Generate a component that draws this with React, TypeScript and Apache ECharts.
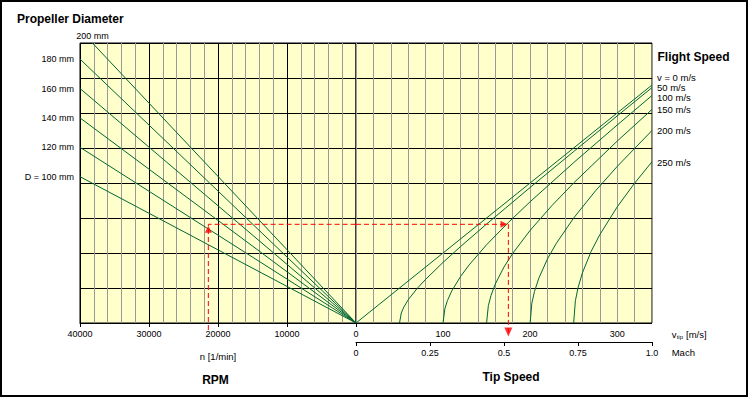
import React, { useEffect, useRef } from 'react';
import * as echarts from 'echarts';

// ---- data ----
// Propeller diameters: rotational tip speed line ends [rpm, m/s]
const diameterLabels = ['D = 100 mm', '120 mm', '140 mm', '160 mm', '180 mm', '200 mm'];
const diameterEnds: number[][] = [
  [40000, 209],
  [40000, 251],
  [40000, 293],
  [40000, 335],
  [40000, 377],
  [38200, 400],
];

// Flight speed curves: [tip speed m/s, rotational tip speed m/s]
const flightLabels = ['v = 0 m/s', '50 m/s', '100 m/s', '150 m/s', '200 m/s', '250 m/s'];
const flightV0: number[][] = [[0, 0], [340, 340]];
const flightV50: number[][] = [[50, 0], [52, 14.3], [55, 22.9], [60, 33.2], [70, 49], [80, 62.4], [100, 86.6], [120, 109.1], [150, 141.4], [200, 193.6], [250, 244.9], [300, 295.8], [340, 336.3]];
const flightV100: number[][] = [[100, 0], [102, 20.1], [105, 32], [110, 45.8], [120, 66.3], [130, 83.1], [150, 111.8], [175, 143.6], [200, 173.2], [250, 229.1], [300, 282.8], [340, 325]];
const flightV150: number[][] = [[150, 0], [152, 24.6], [155, 39.1], [160, 55.7], [170, 80], [180, 99.5], [200, 132.3], [225, 167.7], [250, 200], [300, 259.8], [340, 305.1]];
const flightV200: number[][] = [[200, 0], [202, 28.4], [205, 45], [210, 64], [220, 91.7], [230, 113.6], [250, 150], [275, 188.7], [300, 223.6], [340, 275]];
const flightV250: number[][] = [[250, 0], [252, 31.7], [255, 50.2], [260, 71.4], [270, 102], [280, 126.1], [300, 165.8], [320, 199.7], [340, 230.4]];
const flightCurves = [flightV0, flightV50, flightV100, flightV150, flightV200, flightV250];

// Axis ticks
const rpmTicks = [0, 10000, 20000, 30000, 40000];
const tipSpeedTicks = [100, 200, 300];
const machTicks = ['0', '0.25', '0.5', '0.75', '1.0'];

// Worked example (red dashed)
const exampleRpm = 21400;
const exampleRotSpeed = 141;
const exampleTipSpeed = 175;

const FONT = '"Liberation Sans", Arial, sans-serif';
const GREEN = '#006633';
const RED = '#FF0000';
const GRAY = '#999999';

export default function App() {
  const ref = useRef<HTMLDivElement>(null);

  useEffect(() => {
    if (!ref.current) return;
    const chart = echarts.init(ref.current, undefined, { renderer: 'svg' });

    const flightOffsets = [-8, 0, 2, 0, 0, 1];

    const series: any[] = [];
    diameterEnds.forEach((end, i) => {
      const isTop = i === diameterEnds.length - 1;
      series.push({
        type: 'line',
        xAxisIndex: 1,
        yAxisIndex: 0,
        data: [[0, 0], end],
        showSymbol: false,
        symbol: 'none',
        silent: true,
        lineStyle: { color: GREEN, width: 1 },
        endLabel: isTop
          ? { show: true, formatter: diameterLabels[i], color: '#000', fontSize: 9, fontFamily: FONT, align: 'center', verticalAlign: 'bottom', distance: 0, offset: [0, -3] }
          : { show: true, formatter: diameterLabels[i], color: '#000', fontSize: 9, fontFamily: FONT, distance: 6 },
        z: 3,
      });
    });
    flightCurves.forEach((curve, i) => {
      series.push({
        type: 'line',
        xAxisIndex: 2,
        yAxisIndex: 1,
        data: curve,
        showSymbol: false,
        symbol: 'none',
        silent: true,
        lineStyle: { color: GREEN, width: 1 },
        endLabel: { show: true, formatter: flightLabels[i], color: '#000', fontSize: 9.5, fontFamily: FONT, distance: 5, offset: [0, flightOffsets[i]] },
        z: 3,
      });
    });
    // red dashed worked example
    series.push({
      type: 'line',
      xAxisIndex: 1,
      yAxisIndex: 0,
      data: [[exampleRpm, -10], [exampleRpm, exampleRotSpeed], [0, exampleRotSpeed]],
      showSymbol: false,
      symbol: 'none',
      clip: false,
      silent: true,
      lineStyle: { color: RED, width: 1, type: [5, 3] },
      z: 4,
    });
    series.push({
      type: 'line',
      xAxisIndex: 2,
      yAxisIndex: 1,
      data: [[0, exampleRotSpeed], [exampleTipSpeed, exampleRotSpeed], [exampleTipSpeed, -18]],
      showSymbol: false,
      symbol: 'none',
      clip: false,
      silent: true,
      lineStyle: { color: RED, width: 1, type: [5, 3] },
      z: 4,
    });
    series.push({
      type: 'scatter',
      xAxisIndex: 1,
      yAxisIndex: 0,
      clip: false,
      silent: true,
      symbol: 'triangle',
      symbolSize: [7, 7],
      itemStyle: { color: RED },
      data: [[exampleRpm, exampleRotSpeed - 7]],
      z: 5,
    });
    series.push({
      type: 'scatter',
      xAxisIndex: 2,
      yAxisIndex: 1,
      clip: false,
      silent: true,
      symbol: 'triangle',
      symbolSize: [7, 7],
      symbolRotate: -90,
      itemStyle: { color: RED },
      data: [[exampleTipSpeed - 5, exampleRotSpeed]],
      z: 5,
    });
    series.push({
      type: 'scatter',
      xAxisIndex: 2,
      yAxisIndex: 1,
      clip: false,
      silent: true,
      symbol: 'triangle',
      symbolSize: [8, 9],
      symbolRotate: 180,
      itemStyle: { color: RED },
      data: [[exampleTipSpeed, -13]],
      z: 5,
    });

    const smallText = { fill: '#000', fontSize: 9, fontFamily: FONT };

    const option: any = {
      animation: false,
      backgroundColor: '#FFFFFF',
      textStyle: { fontFamily: FONT },
      grid: [
        { left: 80, top: 43, width: 276, height: 280, show: true, backgroundColor: '#FFFFCC', borderColor: '#000', borderWidth: 1 },
        { left: 356, top: 43, width: 296, height: 280, show: true, backgroundColor: '#FFFFCC', borderColor: '#000', borderWidth: 1 },
      ],
      xAxis: [
        {
          type: 'value', gridIndex: 0, position: 'bottom', min: 0, max: 40000, interval: 2000, inverse: true,
          axisLine: { show: false }, axisTick: { show: false }, axisLabel: { show: false },
          splitLine: { show: true, lineStyle: { color: GRAY, width: 1 } },
        },
        {
          type: 'value', gridIndex: 0, position: 'bottom', min: 0, max: 40000, interval: 10000, inverse: true,
          axisLine: { show: true, lineStyle: { color: '#000', width: 1 } },
          axisTick: { show: true, length: 4, lineStyle: { color: '#000' } },
          axisLabel: {
            show: true, fontSize: 9, color: '#000', margin: 6, fontFamily: FONT,
            formatter: (v: number) => (rpmTicks.indexOf(v) >= 0 ? String(v) : ''),
          },
          splitLine: { show: true, lineStyle: { color: '#000', width: 1 } },
        },
        {
          type: 'value', gridIndex: 1, position: 'bottom', min: 0, max: 340, interval: 20,
          axisLine: { show: false }, axisTick: { show: false },
          axisLabel: {
            show: true, fontSize: 9, color: '#000', margin: 6, fontFamily: FONT,
            showMinLabel: false, showMaxLabel: false,
            formatter: (v: number) => (tipSpeedTicks.indexOf(v) >= 0 ? String(v) : ''),
          },
          splitLine: { show: true, lineStyle: { color: GRAY, width: 1 } },
        },
        {
          type: 'value', gridIndex: 1, position: 'bottom', offset: 19, min: 0, max: 1, interval: 0.25,
          axisLine: { show: true, lineStyle: { color: '#000', width: 1 } },
          axisTick: { show: true, length: 4, lineStyle: { color: '#000' } },
          axisLabel: {
            show: true, fontSize: 9, color: '#000', margin: 6, fontFamily: FONT,
            formatter: (v: number) => machTicks[Math.round(v * 4)] ?? '',
          },
          splitLine: { show: false },
        },
      ],
      yAxis: [
        {
          type: 'value', gridIndex: 0, min: 0, max: 400, interval: 50,
          axisLine: { show: false }, axisTick: { show: false }, axisLabel: { show: false },
          splitLine: { show: true, lineStyle: { color: '#000', width: 1 } },
        },
        {
          type: 'value', gridIndex: 1, min: 0, max: 400, interval: 50,
          axisLine: { show: false }, axisTick: { show: false }, axisLabel: { show: false },
          splitLine: { show: true, lineStyle: { color: '#000', width: 1 } },
        },
      ],
      graphic: [
        { type: 'rect', silent: true, shape: { x: 1, y: 1, width: 746, height: 395 }, style: { fill: 'none', stroke: '#000', lineWidth: 2 }, z: 10 },
        { type: 'text', x: 17, y: 18.7, style: { text: 'Propeller Diameter', fill: '#000', fontSize: 12, fontWeight: 'bold', fontFamily: FONT, verticalAlign: 'middle' } },
        { type: 'text', x: 657.5, y: 56.7, style: { text: 'Flight Speed', fill: '#000', fontSize: 12, fontWeight: 'bold', fontFamily: FONT, verticalAlign: 'middle' } },
        { type: 'text', x: 218, y: 356, style: { text: 'n [1/min]', ...smallText, fontSize: 9.5, align: 'center', verticalAlign: 'middle' } },
        { type: 'text', x: 215.5, y: 379.5, style: { text: 'RPM', fill: '#000', fontSize: 12, fontWeight: 'bold', fontFamily: FONT, align: 'center', verticalAlign: 'middle' } },
        { type: 'text', x: 511, y: 377.3, style: { text: 'Tip Speed', fill: '#000', fontSize: 12, fontWeight: 'bold', fontFamily: FONT, align: 'center', verticalAlign: 'middle' } },
        { type: 'text', x: 671.7, y: 334, style: { text: 'v', ...smallText, fontSize: 9.5, verticalAlign: 'middle' } },
        { type: 'text', x: 676.7, y: 336.5, style: { text: 'tip', ...smallText, fontSize: 6, verticalAlign: 'middle' } },
        { type: 'text', x: 686, y: 334, style: { text: '[m/s]', ...smallText, fontSize: 9.5, verticalAlign: 'middle' } },
        { type: 'text', x: 671.7, y: 352.3, style: { text: 'Mach', ...smallText, fontSize: 9.5, verticalAlign: 'middle' } },
      ],
      series,
    };

    chart.setOption(option);
    return () => {
      chart.dispose();
    };
  }, []);

  return (
    <div
      ref={ref}
      style={{ position: 'absolute', left: 0, top: 0, width: 748, height: 397, background: '#fff' }}
    />
  );
}
